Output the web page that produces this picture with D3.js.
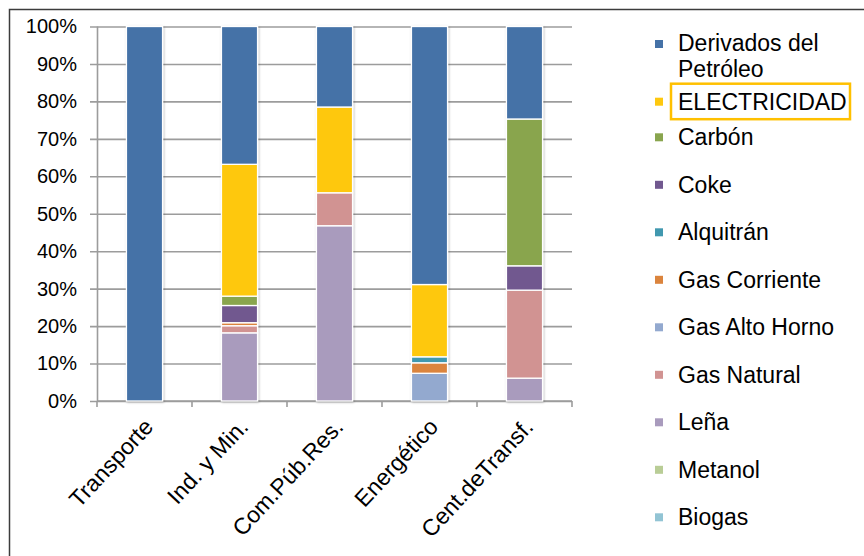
<!DOCTYPE html>
<html>
<head>
<meta charset="utf-8">
<script src="https://cdn.jsdelivr.net/npm/d3@7/dist/d3.min.js"></script>
<style>
  html, body { margin: 0; padding: 0; background: #fff; }
  svg { display: block; font-family: "Liberation Sans", Arial, sans-serif; }
</style>
</head>
<body>
<svg id="chart" width="864" height="556"></svg>
<script>
// Sectors (x categories)
const categories = ["Transporte", "Ind. y Min.", "Com.Púb.Res.", "Energético", "Cent.deTransf."];

// Energy sources, listed top-to-bottom as in the legend
const sources = ["Derivados del Petróleo", "ELECTRICIDAD", "Carbón", "Coke", "Alquitrán",
  "Gas Corriente", "Gas Alto Horno", "Gas Natural", "Leña", "Metanol", "Biogas"];

const colors = ["#4572a7", "#fec80e", "#89a54e", "#71588f", "#4198af",
  "#db843d", "#93a9cf", "#d19392", "#a99bbd", "#b9cd96", "#92c4d4"];

// Share of each source per sector (%), one array per source, ordered like categories
const derivados    = [100, 36.8, 21.5, 68.9, 24.7];
const electricidad = [0, 35.2, 22.9, 19.3, 0];
const carbon       = [0, 2.5, 0, 0, 39.2];
const coke         = [0, 4.6, 0, 0, 6.5];
const alquitran    = [0, 0, 0, 1.6, 0];
const gasCorriente = [0, 0.8, 0, 2.8, 0];
const gasAltoHorno = [0, 0, 0, 7.4, 0];
const gasNatural   = [0, 1.9, 8.8, 0, 23.5];
const lena         = [0, 18.2, 46.8, 0, 6.1];
const metanol      = [0, 0, 0, 0, 0];
const biogas       = [0, 0, 0, 0, 0];

const seriesValues = [derivados, electricidad, carbon, coke, alquitran,
  gasCorriente, gasAltoHorno, gasNatural, lena, metanol, biogas];

const yTicks = [0, 10, 20, 30, 40, 50, 60, 70, 80, 90, 100];

// Build rows for d3.stack
const rows = categories.map((c, i) => {
  const r = { category: c };
  sources.forEach((s, j) => { r[s] = seriesValues[j][i]; });
  return r;
});

// Stack from the bottom: the last legend entry sits lowest
const stackOrder = sources.slice().reverse();
const stacked = d3.stack().keys(stackOrder)(rows);
const color = d3.scaleOrdinal().domain(sources).range(colors);

const svg = d3.select("#chart");

const x = d3.scaleBand().domain(categories).range([97, 572])
  .paddingInner(0.62).paddingOuter(0.31);
const y = d3.scaleLinear().domain([0, 100]).range([401, 26.5]);

// Chart frame
svg.append("path")
  .attr("d", "M9.5,560 L9.5,9.5 L870,9.5")
  .attr("fill", "none").attr("stroke", "#3c3c3c").attr("stroke-width", 1.5);

// Shadow filter for bars
const defs = svg.append("defs");
const f = defs.append("filter").attr("id", "shadow")
  .attr("x", "-20%").attr("y", "-5%").attr("width", "140%").attr("height", "110%");
f.append("feDropShadow").attr("dx", 0.8).attr("dy", 0.8)
  .attr("stdDeviation", 1.2).attr("flood-color", "#000").attr("flood-opacity", 0.28);

// Gridlines + y axis
const yAxis = d3.axisLeft(y).tickValues(yTicks).tickFormat(d => d + "%")
  .tickSize(-(572 - 90)).tickPadding(14);
const gy = svg.append("g").attr("transform", "translate(90,0)").call(yAxis);
gy.select(".domain").remove();
gy.selectAll(".tick line").attr("stroke", "#9c9c9c").attr("stroke-width", 1.6);
gy.selectAll(".tick text").attr("fill", "#000").style("font-size", "20px")
  .attr("x", -13);
svg.append("line").attr("x1", 97.5).attr("x2", 97.5).attr("y1", y(100)).attr("y2", y(0))
  .attr("stroke", "#9c9c9c").attr("stroke-width", 1.6);

// x axis baseline and category boundary ticks
svg.append("line").attr("x1", 97).attr("x2", 572).attr("y1", y(0)).attr("y2", y(0))
  .attr("stroke", "#9c9c9c").attr("stroke-width", 1.6);
const step = x.step();
const boundaries = d3.range(categories.length + 1).map(i => 97 + i * step);
svg.append("g").selectAll("line").data(boundaries).join("line")
  .attr("x1", d => d).attr("x2", d => d)
  .attr("y1", y(0)).attr("y2", y(0) + 6)
  .attr("stroke", "#9c9c9c").attr("stroke-width", 1.6);

// Stacked bars
const barsG = svg.append("g").attr("filter", "url(#shadow)");
barsG.selectAll("g").data(stacked).join("g")
  .attr("fill", d => color(d.key))
  .selectAll("rect").data(d => d.filter(s => s[1] - s[0] > 0)).join("rect")
  .attr("x", d => x(d.data.category))
  .attr("width", x.bandwidth())
  .attr("y", d => y(d[1]))
  .attr("height", d => y(d[0]) - y(d[1]))
  .attr("stroke", "#fff").attr("stroke-width", 1.3);

// Rotated category labels
svg.append("g").selectAll("text").data(categories).join("text")
  .attr("transform", d => `translate(${x(d) + x.bandwidth() / 2 + 10},${y(0) + 27}) rotate(-47)`)
  .attr("text-anchor", "end")
  .style("font-size", "23px")
  .attr("fill", "#000")
  .text(d => d);

// Legend
const legendY = i => i === 0 ? 44 : i === 1 ? 101.7 : 137.3 + (i - 2) * 47.5;
const lg = svg.append("g");
sources.forEach((s, i) => {
  const cy = legendY(i);
  lg.append("rect").attr("x", 655).attr("y", cy - 4).attr("width", 8).attr("height", 8)
    .attr("fill", colors[i]);
  const t = lg.append("text").attr("x", 678).attr("y", cy + 8)
    .style("font-size", "23px").attr("fill", "#000");
  if (s === "Derivados del Petróleo") {
    t.attr("y", cy + 7);
    t.append("tspan").attr("x", 678).text("Derivados del");
    t.append("tspan").attr("x", 678).attr("dy", 26).text("Petróleo");
  } else {
    t.text(s);
  }
  if (s === "ELECTRICIDAD") {
    lg.append("rect")
      .attr("x", 671).attr("y", cy - 18)
      .attr("width", 179).attr("height", 35.5)
      .attr("fill", "none").attr("stroke", "#ffc000").attr("stroke-width", 2.5);
  }
});
</script>
</body>
</html>
